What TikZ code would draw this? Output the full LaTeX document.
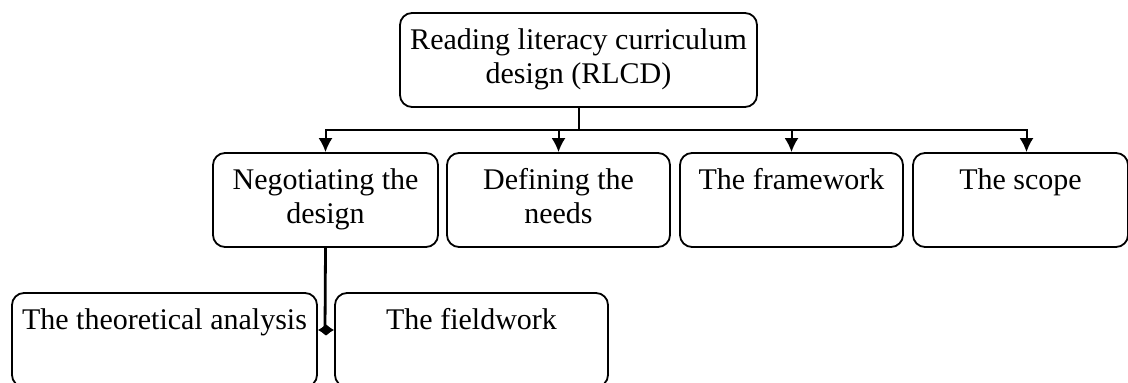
\documentclass[tikz,border=0pt]{standalone}
\usepackage{fontspec}
\setmainfont{Liberation Serif}
\usepackage{tikz}
\usetikzlibrary{arrows.meta}

\begin{document}
\begin{tikzpicture}[x=0.5pt, y=-0.5pt]
\tikzset{box/.style = {shape=rectangle,draw,rounded corners=6pt,line width=0.9pt,align=center,inner sep=0pt,minimum height=47pt,font=\fontsize{15}{17}\selectfont}}
\tikzset{link/.style = {line width=1pt,-{Latex[length=7pt,width=7pt]}}}
\useasboundingbox (0,0) rectangle (1128,383);
\node[box, minimum width=178.5pt](rlcd) at (578.5, 60) {Reading literacy curriculum\strut\\design (RLCD)\strut};
\node[box, minimum width=112.5pt](neg) at (325.5, 200) {Negotiating the\strut\\design\strut};
\node[box, minimum width=111.5pt](needs) at (558.5, 200) {Defining the\strut\\needs\strut};
\node[box, minimum width=111.5pt](frame) at (791.5, 200) {The framework\strut\\\strut};
\node[box, minimum width=107.5pt](scope) at (1020.5, 200) {The scope\strut\\\strut};
\node[box, minimum width=152.5pt](theo) at (164.5, 340) {The theoretical analysis\strut\\\strut};
\node[box, minimum width=136.5pt](field) at (471.5, 340) {The fieldwork\strut\\\strut};
\coordinate (split) at (325, 330);
\draw[line width=1pt] (rlcd.south) -- ++(0, 22) coordinate (bar);
\draw[link] (bar) -| (neg.north);
\draw[link] (bar) -| (needs.north);
\draw[link] (bar) -| (frame.north);
\draw[link] (bar) -| ([xshift=3pt]scope.north);
\draw[line width=1.4pt] (neg.south) -- (split);
\draw[line width=1pt,-{Latex[length=4pt,width=6pt]}] (split) -- (theo.east |- split);
\draw[line width=1pt,-{Latex[length=4pt,width=6pt]}] (split) -- (field.west |- split);
\end{tikzpicture}
\end{document}
